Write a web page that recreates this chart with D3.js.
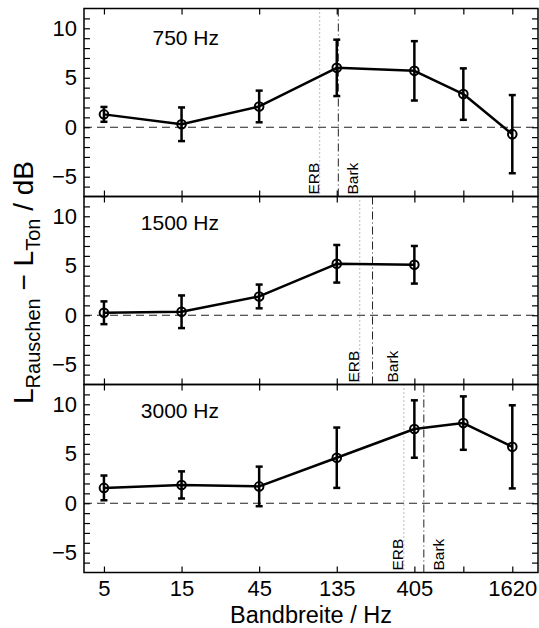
<!DOCTYPE html>
<html>
<head>
<meta charset="utf-8">
<script src="https://cdn.jsdelivr.net/npm/d3@7"></script>
<style>
  body { margin: 0; background: #fff; }
  svg { display: block; }
</style>
</head>
<body>
<svg id="chart" width="539" height="628"></svg>
<script>
// ---------------- data ----------------
const bandwidths = [5, 15, 45, 135, 405, 810, 1620];
const xTickLabels = ["5", "15", "45", "135", "405", "", "1620"];
const yTickLabels = [-5, 0, 5, 10];
const panelTitles = ["750 Hz", "1500 Hz", "3000 Hz"];

const mean750  = [1.3, 0.3, 2.1, 6.0, 5.7, 3.35, -0.7];
const err750   = [0.75, 1.7, 1.6, 2.85, 3.0, 2.6, 3.95];
const mean1500 = [0.25, 0.35, 1.9, 5.2, 5.1];
const err1500  = [1.15, 1.65, 1.2, 1.9, 1.9];
const mean3000 = [1.55, 1.85, 1.7, 4.6, 7.5, 8.1, 5.7];
const err3000  = [1.25, 1.37, 2.0, 3.05, 2.9, 2.7, 4.2];

const erbBandwidth  = [106, 187, 349];
const barkBandwidth = [138, 224, 463];

const yLabelMain = ["L", "Rauschen", " \u2212 L", "Ton", " / dB"];
const xLabelText = "Bandbreite / Hz";

// ---------------- layout ----------------
const FONT = "'Liberation Sans', Arial, Helvetica, sans-serif";
const left = 84, right = 538, top0 = 8.5, panelH = 188;
const svg = d3.select("#chart");

const x = d3.scaleLog().domain([3.77, 1620 * Math.exp((538 - 512.3) / 70.63)]).range([left, right]);
const y = d3.scaleLinear().domain([-7, 12]).range([panelH, 0]);

const panels = [
  { title: panelTitles[0], mean: mean750, err: err750, erb: erbBandwidth[0], bark: barkBandwidth[0], titleDy: 36, barkOff: 20 },
  { title: panelTitles[1], mean: mean1500, err: err1500, erb: erbBandwidth[1], bark: barkBandwidth[1], titleDy: 33.5, barkOff: 25 },
  { title: panelTitles[2], mean: mean3000, err: err3000, erb: erbBandwidth[2], bark: barkBandwidth[2], titleDy: 33.5, barkOff: 20 }
];

const minorY = d3.range(-6, 12);

panels.forEach((p, i) => {
  const g = svg.append("g").attr("transform", `translate(0,${top0 + i * panelH})`);

  // zero line
  g.append("line")
    .attr("x1", left).attr("x2", right)
    .attr("y1", y(0)).attr("y2", y(0))
    .attr("stroke", "#222").attr("stroke-width", 1.2)
    .attr("stroke-dasharray", "8,5");

  // ERB line (dotted)
  g.append("line")
    .attr("x1", x(p.erb)).attr("x2", x(p.erb))
    .attr("y1", 0).attr("y2", panelH)
    .attr("stroke", "#777").attr("stroke-width", 1)
    .attr("stroke-dasharray", "1,3");
  // Bark line (dash-dot)
  g.append("line")
    .attr("x1", x(p.bark)).attr("x2", x(p.bark))
    .attr("y1", 0).attr("y2", panelH)
    .attr("stroke", "#222").attr("stroke-width", 1)
    .attr("stroke-dasharray", "8,3,1,3");

  // ERB / Bark labels
  g.append("text")
    .attr("transform", `translate(${x(p.erb) - 0.5},${panelH - 2}) rotate(-90)`)
    .attr("font-family", FONT).attr("font-size", 15.5)
    .text("ERB");
  g.append("text")
    .attr("transform", `translate(${x(p.bark) + p.barkOff},${panelH - 2}) rotate(-90)`)
    .attr("font-family", FONT).attr("font-size", 15.5)
    .text("Bark");

  const pts = p.mean.map((m, k) => ({ bw: bandwidths[k], m, e: p.err[k] }));

  // data line
  g.append("path")
    .datum(pts)
    .attr("fill", "none").attr("stroke", "#000").attr("stroke-width", 2.5)
    .attr("stroke-linejoin", "round")
    .attr("d", d3.line().x(d => x(d.bw)).y(d => y(d.m)));

  // error bars
  const eb = g.append("g").attr("stroke", "#000").attr("stroke-width", 2.5);
  pts.forEach(d => {
    const cx = x(d.bw);
    eb.append("line").attr("x1", cx).attr("x2", cx).attr("y1", y(d.m - d.e)).attr("y2", y(d.m + d.e));
    eb.append("line").attr("x1", cx - 3.5).attr("x2", cx + 3.5).attr("y1", y(d.m - d.e)).attr("y2", y(d.m - d.e));
    eb.append("line").attr("x1", cx - 3.5).attr("x2", cx + 3.5).attr("y1", y(d.m + d.e)).attr("y2", y(d.m + d.e));
  });

  // markers
  g.selectAll("circle.m").data(pts).enter().append("circle")
    .attr("cx", d => x(d.bw)).attr("cy", d => y(d.m)).attr("r", 4.3)
    .attr("fill", "none").attr("stroke", "#000").attr("stroke-width", 2);

  // title
  g.append("text")
    .attr("x", 219).attr("y", p.titleDy)
    .attr("text-anchor", "end")
    .attr("font-family", FONT).attr("font-size", 21)
    .text(p.title);

  // axes
  const yl = g.append("g").attr("transform", `translate(${left},0)`)
    .call(d3.axisLeft(y).tickValues(minorY).tickSizeInner(-6).tickSizeOuter(0).tickPadding(7)
      .tickFormat(v => yTickLabels.includes(v) ? (v < 0 ? "\u2212" + Math.abs(v) : String(v)) : ""));
  const yr = g.append("g").attr("transform", `translate(${right},0)`)
    .call(d3.axisRight(y).tickValues(minorY).tickSizeInner(-6).tickSizeOuter(0).tickFormat(""));
  const xt = g.append("g").attr("transform", `translate(0,0)`)
    .call(d3.axisTop(x).tickValues(bandwidths).tickSizeInner(-6).tickSizeOuter(0).tickFormat(""));
  const xb = g.append("g").attr("transform", `translate(0,${panelH})`)
    .call(d3.axisBottom(x).tickValues(bandwidths).tickSizeInner(-6).tickSizeOuter(0).tickPadding(8)
      .tickFormat((v, k) => i === 2 ? xTickLabels[k] : ""));
  [yl, yr, xt, xb].forEach(a => {
    a.select(".domain").remove();
    a.selectAll("line").attr("stroke", "#000").attr("stroke-width", 1.2);
    a.selectAll("text").attr("font-family", FONT).attr("font-size", 22).attr("fill", "#000");
  });

  // frame
  g.append("rect")
    .attr("x", left).attr("y", 0).attr("width", right - left).attr("height", panelH)
    .attr("fill", "none").attr("stroke", "#000").attr("stroke-width", 1.5);
});

// x axis label
svg.append("text")
  .attr("x", (left + right) / 2).attr("y", 622.5)
  .attr("text-anchor", "middle")
  .attr("font-family", FONT).attr("font-size", 23.5)
  .text(xLabelText);

// y axis label
const yLab = svg.append("text")
  .attr("transform", `translate(33,${top0 + 1.5 * panelH - 8}) rotate(-90)`)
  .attr("text-anchor", "middle")
  .attr("font-family", FONT).attr("font-size", 28);
yLab.append("tspan").text(yLabelMain[0]);
yLab.append("tspan").attr("font-size", 20).attr("dy", 7).text(yLabelMain[1]);
yLab.append("tspan").attr("dy", -7).text(yLabelMain[2]);
yLab.append("tspan").attr("font-size", 20).attr("dy", 7).text(yLabelMain[3]);
yLab.append("tspan").attr("dy", -7).text(yLabelMain[4]);
</script>
</body>
</html>
